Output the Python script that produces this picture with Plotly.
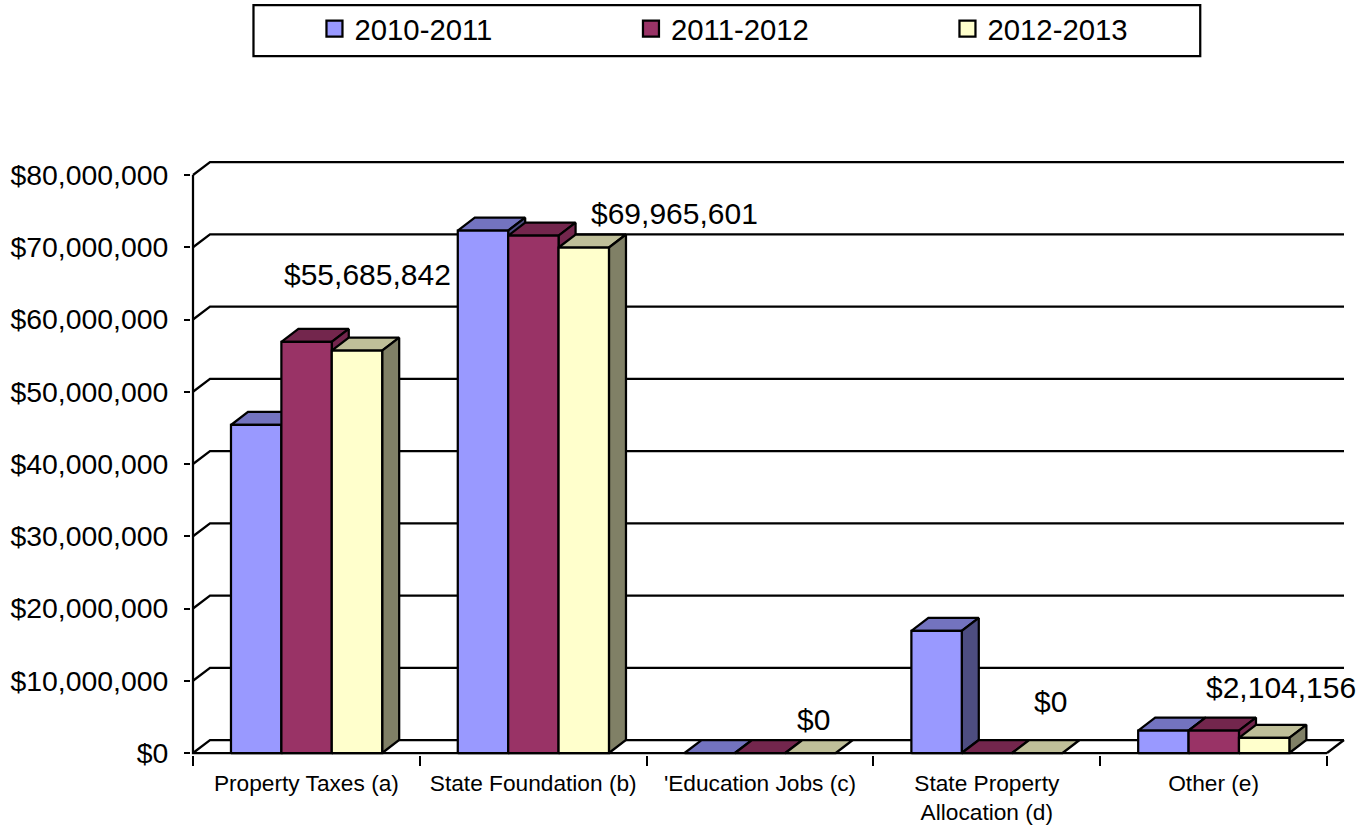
import plotly.graph_objects as go

# Revenue by source, three fiscal years
categories = ["Property Taxes (a)", "State Foundation (b)", "'Education Jobs (c)",
              "State Property<br>Allocation (d)", "Other (e)"]
series_names = ["2010-2011", "2011-2012", "2012-2013"]
values_2010 = [45400000, 72300000, 0, 16900000, 3100000]
values_2011 = [56900000, 71600000, 0, 0, 3100000]
values_2012 = [55685842, 69965601, 0, 0, 2104156]
y_ticks = [0, 10000000, 20000000, 30000000, 40000000, 50000000, 60000000, 70000000, 80000000]

front_colors = ["#9999FF", "#993366", "#FFFFCC"]
top_colors = ["#7373BF", "#73264D", "#BFBF99"]
side_colors = ["#4D4D80", "#73264D", "#808066"]

# Oblique projection of the chart depth, in axis units
DEPTH_X = 0.075
DEPTH_Y = 1800000
BAR_WIDTH = 0.2222
GROUP_START = 0.1675
LINE = dict(color="black", width=2.25)
FONT = "Liberation Sans, Arial, sans-serif"
N = len(categories)

# Axis ranges leave room for the depth offset and for the outer half of edge strokes
X_RANGE = [-0.0088, N + DEPTH_X + 0.0088]
Y_RANGE = [-276600, y_ticks[-1] + DEPTH_Y + 276600]
PLOT_LEFT, PLOT_RIGHT, PLOT_TOP, PLOT_BOTTOM = 190.5, 1345.8, 160, 755.5
FIG_W, FIG_H = 1368, 825


def paper_x(px):
    return (px - PLOT_LEFT) / (PLOT_RIGHT - PLOT_LEFT)


def paper_y(px):
    return (PLOT_BOTTOM - px) / (PLOT_BOTTOM - PLOT_TOP)


fig = go.Figure()

# Back wall: each gridline runs up the depth diagonal and along the wall
wall_x, wall_y = [], []
for v in y_ticks:
    wall_x += [0, DEPTH_X, N + DEPTH_X, None]
    wall_y += [v, v + DEPTH_Y, v + DEPTH_Y, None]
wall_x += [N, N + DEPTH_X, None]
wall_y += [0, DEPTH_Y, None]
# Front edges of the value and category axes
wall_x += [0, 0, N]
wall_y += [y_ticks[-1], 0, 0]
fig.add_trace(go.Scatter(x=wall_x, y=wall_y, mode="lines", line=LINE, showlegend=False,
                         hoverinfo="skip"))


def face(xs, ys, color):
    fig.add_trace(go.Scatter(x=xs, y=ys, mode="lines", fill="toself", fillcolor=color,
                             line=LINE, showlegend=False, hoverinfo="skip"))


# Painted left to right so each bar covers the depth faces of its left neighbour
all_series = [values_2010, values_2011, values_2012]
for c in range(N):
    for s, vals in enumerate(all_series):
        v = vals[c]
        x0 = c + GROUP_START + s * BAR_WIDTH
        x1 = x0 + BAR_WIDTH
        face([x0, x0 + DEPTH_X, x1 + DEPTH_X, x1, x0],
             [v, v + DEPTH_Y, v + DEPTH_Y, v, v], top_colors[s])
        if v > 0:
            face([x1, x1 + DEPTH_X, x1 + DEPTH_X, x1, x1],
                 [0, DEPTH_Y, v + DEPTH_Y, v, 0], side_colors[s])
            face([x0, x1, x1, x0, x0], [0, 0, v, v, 0], front_colors[s])

# Legend entries
for name, color in zip(series_names, front_colors):
    fig.add_trace(go.Scatter(x=[None], y=[None], mode="markers", name=name,
                             marker=dict(symbol="square", size=17, color=color, line=LINE)))

# Hand-placed labels for the 2012-2013 series
label_shifts = [(11, 76), (91, 34), (3, 34), (13, 52), (17, 50)]
for c, (v, (dx, dy)) in enumerate(zip(values_2012, label_shifts)):
    fig.add_annotation(x=c + GROUP_START + 2.5 * BAR_WIDTH, y=v, text=f"${v:,.0f}",
                       showarrow=False, xshift=dx, yshift=dy,
                       font=dict(family=FONT, size=30, color="black"))

# Legend frame
fig.add_shape(type="rect", xref="paper", yref="paper", x0=paper_x(253), x1=paper_x(1200),
              y0=paper_y(56), y1=paper_y(5), line=LINE, fillcolor="white", layer="below")

fig.update_layout(
    width=FIG_W, height=FIG_H,
    margin=dict(l=PLOT_LEFT, r=FIG_W - PLOT_RIGHT, t=PLOT_TOP, b=FIG_H - PLOT_BOTTOM,
                autoexpand=False),
    paper_bgcolor="white", plot_bgcolor="white",
    font=dict(family=FONT, color="black"),
    showlegend=True,
    legend=dict(orientation="h", x=paper_x(314), y=paper_y(3), xanchor="left", yanchor="top",
                entrywidth=271.5, entrywidthmode="pixels", bgcolor="rgba(0,0,0,0)",
                font=dict(family=FONT, size=29.3)),
    xaxis=dict(range=X_RANGE, automargin=False, showgrid=False, zeroline=False, showline=False,
               tickmode="array", tickvals=[i + 0.5 for i in range(N)],
               ticktext=categories, ticks="", ticklabelstandoff=12,
               tickfont=dict(family=FONT, size=22.7),
               minor=dict(tickmode="array", tickvals=list(range(N + 1)),
                          ticks="outside", ticklen=10, tickwidth=2, tickcolor="black",
                          showgrid=False)),
    yaxis=dict(range=Y_RANGE, automargin=False, showgrid=False, zeroline=False, showline=False,
               tickmode="array", tickvals=y_ticks, tickformat="$,.0f",
               ticks="outside", ticklen=6, tickwidth=2, tickcolor="black",
               ticklabelstandoff=10, tickfont=dict(family=FONT, size=28.4)),
)

fig.write_html("out.html")
